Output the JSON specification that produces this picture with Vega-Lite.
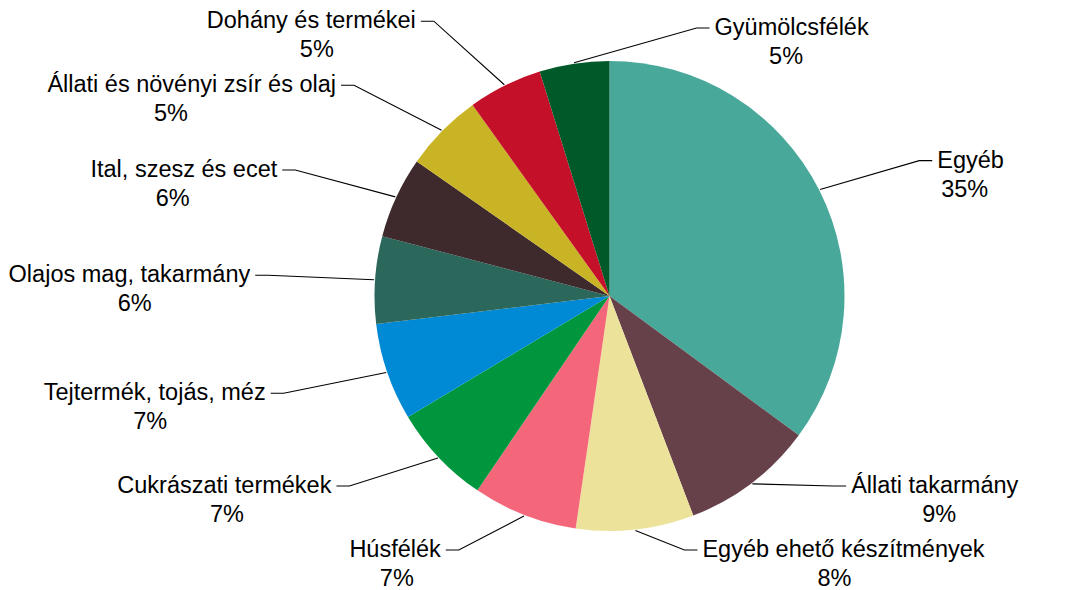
{
  "$schema": "https://vega.github.io/schema/vega-lite/v6.json",
  "width": 917,
  "height": 588,
  "padding": {"left": 151, "top": 2, "right": 0, "bottom": 0},
  "autosize": {"type": "none"},
  "background": "white",
  "config": {"view": {"stroke": null}, "text": {"font": "Liberation Sans"}},
  "data": {
    "values": [
      {"cat": "Egyéb", "v": 35.1},
      {"cat": "Állati takarmány", "v": 9.1},
      {"cat": "Egyéb ehető készítmények", "v": 8.1},
      {"cat": "Húsfélék", "v": 7.2},
      {"cat": "Cukrászati termékek", "v": 6.9},
      {"cat": "Tejtermék, tojás, méz", "v": 6.7},
      {"cat": "Olajos mag, takarmány", "v": 6.0},
      {"cat": "Ital, szesz és ecet", "v": 5.6},
      {"cat": "Állati és növényi zsír és olaj", "v": 5.4},
      {"cat": "Dohány és termékei", "v": 5.1},
      {"cat": "Gyümölcsfélék", "v": 4.8}
    ]
  },
  "transform": [
    {"window": [{"op": "sum", "field": "v", "as": "cum"}], "frame": [null, 0]},
    {"calculate": "datum.cum - datum.v", "as": "start"},
    {"calculate": "datum.cum - datum.v / 2", "as": "mid"},
    {"calculate": "2 * PI * datum.mid / 100", "as": "ang"},
    {"calculate": "sin(datum.ang)", "as": "sn"},
    {"calculate": "cos(datum.ang)", "as": "cs"},
    {"calculate": "datum.sn + 0.2 >= 0 ? 1 : -1", "as": "side"},
    {"calculate": "datum.side * (60 + 300 * abs(datum.sn))", "as": "nx"},
    {"calculate": "clamp(-300 * datum.cs, -268, 254)", "as": "y0"},
    {"window": [{"op": "row_number", "as": "rk"}], "groupby": ["side"], "sort": [{"field": "y0", "order": "descending"}]},
    {"calculate": "datum.y0 + 64 * (datum.rk - 1)", "as": "z"},
    {"window": [{"op": "min", "field": "z", "as": "zm"}], "groupby": ["side"], "sort": [{"field": "y0", "order": "descending"}], "frame": [null, 0]},
    {"calculate": "datum.zm - 64 * (datum.rk - 1)", "as": "ly"},
    {"calculate": "datum.nx + datum.side * length(datum.cat) * 5.5", "as": "px"},
    {"calculate": "datum.ly + 29", "as": "py"},
    {"calculate": "format(datum.v / 100, '.0%')", "as": "pct"}
  ],
  "layer": [
    {
      "mark": {"type": "arc", "outerRadius": 235},
      "encoding": {
        "theta": {"field": "start", "type": "quantitative", "stack": null, "scale": {"domain": [0, 100]}},
        "theta2": {"field": "cum"},
        "color": {
          "field": "cat",
          "type": "nominal",
          "legend": null,
          "scale": {
            "domain": ["Egyéb", "Állati takarmány", "Egyéb ehető készítmények", "Húsfélék", "Cukrászati termékek", "Tejtermék, tojás, méz", "Olajos mag, takarmány", "Ital, szesz és ecet", "Állati és növényi zsír és olaj", "Dohány és termékei", "Gyümölcsfélék"],
            "range": ["#48A89A", "#66414A", "#EDE29A", "#F4677A", "#00963E", "#0089D5", "#2B675B", "#3E292C", "#C9B425", "#C41028", "#005929"]
          }
        }
      }
    },
    {
      "transform": [
        {"calculate": "[236 * datum.sn, datum.nx - datum.side * 18, datum.nx - datum.side * 5]", "as": "lx"},
        {"calculate": "[-236 * datum.cs, datum.ly, datum.ly]", "as": "lyv"},
        {"calculate": "[0, 1, 2]", "as": "ord"},
        {"flatten": ["lx", "lyv", "ord"]}
      ],
      "mark": {"type": "line", "color": "black", "strokeWidth": 1.1},
      "encoding": {
        "x": {"field": "lx", "type": "quantitative", "axis": null, "scale": {"domain": [-458.5, 458.5], "nice": false, "zero": false}},
        "y": {"field": "lyv", "type": "quantitative", "axis": null, "scale": {"domain": [-294, 294], "reverse": true, "nice": false, "zero": false}},
        "detail": {"field": "cat"},
        "order": {"field": "ord"}
      }
    },
    {
      "transform": [{"filter": "datum.side > 0"}],
      "mark": {"type": "text", "align": "left", "baseline": "middle", "fontSize": 23.5, "font": "Liberation Sans", "color": "black"},
      "encoding": {
        "x": {"field": "nx", "type": "quantitative", "axis": null, "scale": {"domain": [-458.5, 458.5], "nice": false, "zero": false}},
        "y": {"field": "ly", "type": "quantitative", "axis": null, "scale": {"domain": [-294, 294], "reverse": true, "nice": false, "zero": false}},
        "text": {"field": "cat"}
      }
    },
    {
      "transform": [{"filter": "datum.side < 0"}],
      "mark": {"type": "text", "align": "right", "baseline": "middle", "fontSize": 23.5, "font": "Liberation Sans", "color": "black"},
      "encoding": {
        "x": {"field": "nx", "type": "quantitative", "axis": null, "scale": {"domain": [-458.5, 458.5], "nice": false, "zero": false}},
        "y": {"field": "ly", "type": "quantitative", "axis": null, "scale": {"domain": [-294, 294], "reverse": true, "nice": false, "zero": false}},
        "text": {"field": "cat"}
      }
    },
    {
      "mark": {"type": "text", "align": "center", "baseline": "middle", "fontSize": 23.5, "font": "Liberation Sans", "color": "black"},
      "encoding": {
        "x": {"field": "px", "type": "quantitative", "axis": null, "scale": {"domain": [-458.5, 458.5], "nice": false, "zero": false}},
        "y": {"field": "py", "type": "quantitative", "axis": null, "scale": {"domain": [-294, 294], "reverse": true, "nice": false, "zero": false}},
        "text": {"field": "pct"}
      }
    }
  ]
}
